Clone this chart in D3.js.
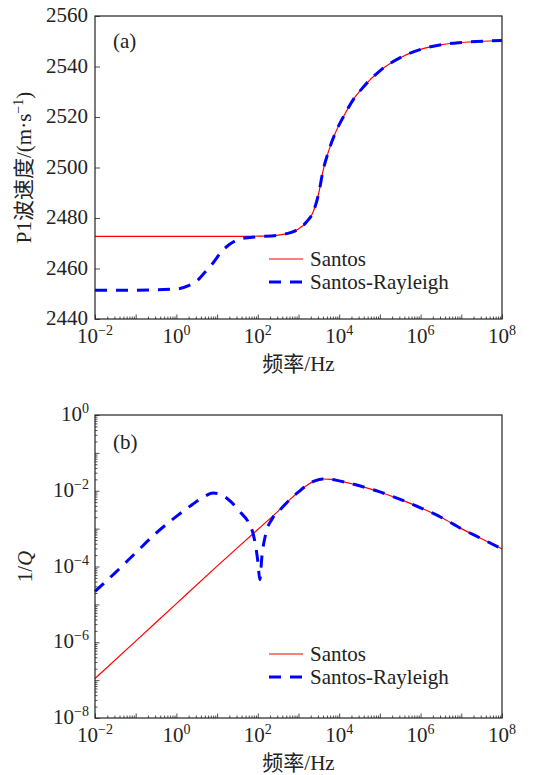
<!DOCTYPE html>
<html>
<head>
<meta charset="utf-8">
<script src="https://cdn.jsdelivr.net/npm/d3@7"></script>
<style>
  body { margin: 0; background: #fff; }
  svg text { font-family: "Liberation Serif", "DejaVu Serif", "Noto Sans CJK SC", serif; fill: #222; }
</style>
</head>
<body>
<div id="chart"></div>
<script>
// ---- data ----
// (a) P1 wave velocity (m/s) vs frequency (Hz)
const freqVel = [1e-2, 1e-1, 1, 10 ** 0.3, 10 ** 0.5, 10 ** 0.7, 10 ** 0.9, 10 ** 1.1, 10 ** 1.3, 10 ** 1.5,
                 10 ** 1.8, 1e2, 10 ** 2.5, 10 ** 2.8, 1e3, 10 ** 3.2, 10 ** 3.35, 10 ** 3.5, 10 ** 3.6,
                 10 ** 3.75, 10 ** 3.9, 10 ** 4.1, 10 ** 4.35, 10 ** 4.6, 1e5, 10 ** 5.5, 1e6, 10 ** 6.5, 1e7, 1e8];
const velSantos = [2472.7, 2472.7, 2472.7, 2472.7, 2472.7, 2472.7, 2472.7, 2472.7, 2472.7, 2472.7,
                   2472.7, 2472.8, 2473.2, 2474.2, 2475.6, 2478.5, 2482.0, 2490.0, 2498.5,
                   2507.0, 2513.5, 2520.0, 2527.0, 2532.0, 2538.3, 2543.5, 2546.8, 2548.6, 2549.5, 2550.3];
const velRayleigh = [2451.4, 2451.4, 2451.9, 2453.2, 2455.0, 2458.5, 2462.2, 2466.5, 2469.5, 2471.3,
                     2472.3, 2472.6, 2473.2, 2474.2, 2475.6, 2478.5, 2482.0, 2490.0, 2498.5,
                     2507.0, 2513.5, 2520.0, 2527.0, 2532.0, 2538.3, 2543.5, 2546.8, 2548.6, 2549.5, 2550.3];

// (b) attenuation 1/Q vs frequency (Hz)
const freqQSantos = [1e-2, 1e-1, 1, 10, 1e2, 10 ** 2.5, 10 ** 2.8, 1e3, 10 ** 3.2, 10 ** 3.4, 10 ** 3.6,
                     10 ** 3.8, 1e4, 10 ** 4.5, 1e5, 10 ** 5.5, 1e6, 10 ** 6.5, 1e7, 10 ** 7.5, 1e8];
const qSantos = [1.1e-7, 1.07e-6, 1.05e-5, 1.02e-4, 9.5e-4, 2.9e-3, 6.0e-3, 9.3e-3, 1.38e-2, 1.82e-2, 2.04e-2,
                 2.0e-2, 1.82e-2, 1.35e-2, 9.3e-3, 5.9e-3, 3.55e-3, 2.0e-3, 1.0e-3, 5.4e-4, 2.9e-4];
const freqQRayleigh = [1e-2, 10 ** -1.5, 1e-1, 10 ** -0.5, 1, 10 ** 0.4, 10 ** 0.7, 10 ** 0.9, 10 ** 1.1,
                       10 ** 1.35, 10 ** 1.6, 10 ** 1.75, 10 ** 1.92, 1e2, 10 ** 2.05, 10 ** 2.1, 10 ** 2.2,
                       10 ** 2.35, 10 ** 2.6, 10 ** 2.85, 1e3, 10 ** 3.2, 10 ** 3.4, 10 ** 3.6,
                       10 ** 3.8, 1e4, 10 ** 4.5, 1e5, 10 ** 5.5, 1e6, 10 ** 6.5, 1e7, 10 ** 7.5, 1e8];
const qRayleigh = [2.2e-5, 6.9e-5, 2.3e-4, 7.6e-4, 2.1e-3, 4.4e-3, 7.2e-3, 8.7e-3, 7.9e-3,
                   5.0e-3, 2.5e-3, 1.6e-3, 5.0e-4, 1.4e-4, 4.5e-5, 1.8e-4, 7.6e-4,
                   1.8e-3, 3.6e-3, 6.8e-3, 9.3e-3, 1.38e-2, 1.82e-2, 2.04e-2,
                   2.0e-2, 1.82e-2, 1.35e-2, 9.3e-3, 5.9e-3, 3.55e-3, 2.0e-3, 1.0e-3, 5.4e-4, 2.9e-4];

const xTicksLabelled = [-2, 0, 2, 4, 6, 8];     // exponents
const velTicks = [2440, 2460, 2480, 2500, 2520, 2540, 2560];
const qTicksLabelled = [-8, -6, -4, -2, 0];      // exponents
const seriesNames = ["Santos", "Santos-Rayleigh"];

/**********************
***** BASIC SETUP *****
**********************/
const width = 535, height = 775;
const left = 95, right = 502;
const panels = [
  {top: 16, bottom: 319},
  {top: 415, bottom: 718}
];
const RED = "#ff0000", BLUE = "#0000ff";
const FS = 21, FS_SUP = 14;

const svg = d3.select("#chart").append("svg")
  .attr("width", width).attr("height", height);

const xScale = d3.scaleLog().domain([1e-2, 1e8]).range([left, right]);

function logMinor(lo, hi) {
  const out = [];
  for (let e = lo; e < hi; e++) {
    for (let m = 2; m <= 9; m++) out.push(m * 10 ** e);
  }
  return out;
}
const decades = d3.range(-2, 9).map(e => 10 ** e);

function drawXAxis(p) {
  const g = svg.append("g").attr("transform", `translate(0, ${p.bottom})`);
  g.call(d3.axisBottom(xScale).tickValues(decades).tickSize(-4.5).tickFormat(""));
  g.append("g").call(d3.axisBottom(xScale).tickValues(logMinor(-2, 8)).tickSize(-2.5).tickFormat(""));
  g.selectAll(".domain").remove();
  g.selectAll("line").attr("stroke", "#222").attr("stroke-width", 0.8);

  // labels 10^n
  const labs = svg.append("g");
  xTicksLabelled.forEach(e => {
    const t = labs.append("text")
      .attr("x", xScale(10 ** e))
      .attr("y", p.bottom + 24)
      .attr("text-anchor", "middle")
      .style("font-size", FS + "px");
    t.append("tspan").text("10");
    t.append("tspan").attr("dy", -8).style("font-size", FS_SUP + "px").text(e < 0 ? "\u2212" + (-e) : e);
  });

  svg.append("text")
    .attr("x", (left + right) / 2)
    .attr("y", p.bottom + 52)
    .attr("text-anchor", "middle")
    .style("font-size", FS + "px")
    .text("频率/Hz");
}

function frame(p) {
  svg.append("rect")
    .attr("x", left).attr("y", p.top)
    .attr("width", right - left).attr("height", p.bottom - p.top)
    .attr("fill", "none").attr("stroke", "#222").attr("stroke-width", 1.2);
}

function legend(p, y0) {
  const g = svg.append("g");
  seriesNames.forEach((name, i) => {
    const y = y0 + i * 23;
    g.append("line")
      .attr("x1", 269).attr("x2", 303).attr("y1", y).attr("y2", y)
      .attr("stroke", i === 0 ? RED : BLUE)
      .attr("stroke-width", i === 0 ? 1.2 : 3)
      .attr("stroke-dasharray", i === 0 ? null : "12,9");
    g.append("text")
      .attr("x", 310).attr("y", y + 7)
      .style("font-size", FS + "px")
      .text(name);
  });
}

/*****************************
***** PANEL (a) VELOCITY *****
*****************************/
const pa = panels[0];
const yVel = d3.scaleLinear().domain([2440, 2560]).range([pa.bottom, pa.top]);

const gya = svg.append("g").attr("transform", `translate(${left}, 0)`)
  .call(d3.axisLeft(yVel).tickValues(velTicks).tickSize(-5).tickFormat(""));
gya.selectAll(".domain").remove();
gya.selectAll("line").attr("stroke", "#222").attr("stroke-width", 0.8);

velTicks.forEach(v => {
  svg.append("text")
    .attr("x", 88).attr("y", yVel(v) + 6)
    .attr("text-anchor", "end")
    .style("font-size", FS + "px")
    .text(v);
});

const lineVel = d3.line()
  .x(d => xScale(d[0])).y(d => yVel(d[1]))
  .curve(d3.curveMonotoneX);

svg.append("path")
  .datum(d3.zip(freqVel, velSantos))
  .attr("d", lineVel)
  .attr("fill", "none").attr("stroke", RED).attr("stroke-width", 1.2);

svg.append("path")
  .datum(d3.zip(freqVel, velRayleigh))
  .attr("d", lineVel)
  .attr("fill", "none").attr("stroke", BLUE).attr("stroke-width", 3)
  .attr("stroke-dasharray", "12,9");

frame(pa);
drawXAxis(pa);
legend(pa, 259);

svg.append("text").attr("x", 113).attr("y", 48).style("font-size", FS + "px").text("(a)");

const ylabA = svg.append("text")
  .attr("transform", `translate(31, ${(pa.top + pa.bottom) / 2}) rotate(-90)`)
  .attr("text-anchor", "middle")
  .style("font-size", FS + "px");
ylabA.append("tspan").text("P1波速度/(m·s");
ylabA.append("tspan").attr("dy", -8).style("font-size", FS_SUP + "px").text("\u22121");
ylabA.append("tspan").attr("dy", 8).text(")");

/***************************
***** PANEL (b) 1/Q *******
***************************/
const pb = panels[1];
const yQ = d3.scaleLog().domain([1e-8, 1]).range([pb.bottom, pb.top]);

const gyb = svg.append("g").attr("transform", `translate(${left}, 0)`);
gyb.call(d3.axisLeft(yQ).tickValues(d3.range(-8, 1).map(e => 10 ** e)).tickSize(-4.5).tickFormat(""));
gyb.append("g").call(d3.axisLeft(yQ).tickValues(logMinor(-8, 0)).tickSize(-2.5).tickFormat(""));
gyb.selectAll(".domain").remove();
gyb.selectAll("line").attr("stroke", "#222").attr("stroke-width", 0.8);

qTicksLabelled.forEach(e => {
  const t = svg.append("text")
    .attr("x", 89).attr("y", yQ(10 ** e) + 6)
    .attr("text-anchor", "end")
    .style("font-size", FS + "px");
  t.append("tspan").text("10");
  t.append("tspan").attr("dy", -8).style("font-size", FS_SUP + "px").text(e < 0 ? "\u2212" + (-e) : e);
});

const lineQ = d3.line()
  .x(d => xScale(d[0])).y(d => yQ(d[1]))
  .curve(d3.curveMonotoneX);

svg.append("path")
  .datum(d3.zip(freqQSantos, qSantos))
  .attr("d", lineQ)
  .attr("fill", "none").attr("stroke", RED).attr("stroke-width", 1.2);

svg.append("path")
  .datum(d3.zip(freqQRayleigh, qRayleigh))
  .attr("d", lineQ)
  .attr("fill", "none").attr("stroke", BLUE).attr("stroke-width", 3)
  .attr("stroke-dasharray", "12,9");

frame(pb);
drawXAxis(pb);
legend(pb, 654);

svg.append("text").attr("x", 113).attr("y", 449).style("font-size", FS + "px").text("(b)");

const ylabB = svg.append("text")
  .attr("transform", `translate(32, ${(pb.top + pb.bottom) / 2}) rotate(-90)`)
  .attr("text-anchor", "middle")
  .style("font-size", FS + "px");
ylabB.append("tspan").text("1/");
ylabB.append("tspan").style("font-style", "italic").text("Q");
</script>
</body>
</html>
